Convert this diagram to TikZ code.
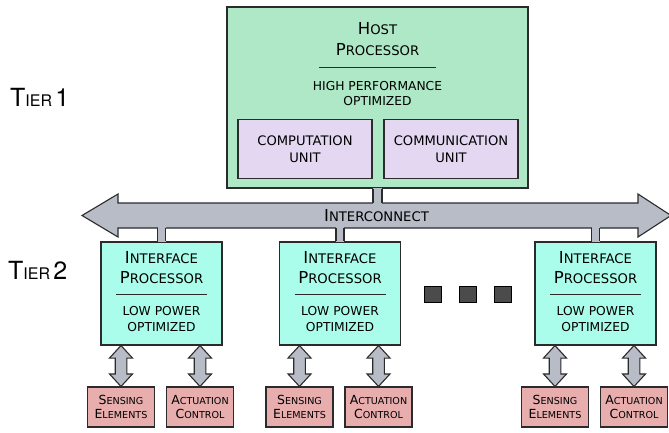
\documentclass[tikz,border=0pt]{standalone}
\usepackage{fontspec}
\setmainfont{DejaVu Sans}
\newfontfamily\tierfont{TeX Gyre Heros}
\usetikzlibrary{calc}

% fake small caps: large initial, smaller capitals
\newcommand\tsc[2]{{\fontsize{16.5}{19}\selectfont #1}{\fontsize{13.2}{15}\selectfont #2}}
\newcommand\ssc[2]{{\fontsize{12.5}{14}\selectfont #1}{\fontsize{9.6}{11}\selectfont #2}}
\newcommand\tiersc[2]{{\tierfont\fontsize{25}{28}\selectfont #1}{\tierfont\fontsize{16}{18}\selectfont #2}}

\definecolor{hostgreen}{RGB}{174,232,198}
\definecolor{unitlav}{RGB}{227,215,242}
\definecolor{ifcyan}{RGB}{170,253,234}
\definecolor{leafpink}{RGB}{232,173,173}
\definecolor{busgray}{RGB}{183,188,199}
\definecolor{edge}{RGB}{43,43,43}
\definecolor{dotgray}{RGB}{75,75,75}

\tikzset{
  boxline/.style={draw=edge, line width=1.1pt},
  hostbox/.style={boxline, fill=hostgreen, minimum width=301pt, minimum height=181pt, inner sep=0pt},
  unitbox/.style={boxline, fill=unitlav, minimum width=134pt, minimum height=59pt, inner sep=0pt,
    align=center, font=\fontsize{13.1}{17}\selectfont},
  ifbox/.style={boxline, fill=ifcyan, minimum width=121pt, minimum height=103pt, inner sep=0pt},
  leafbox/.style={boxline, fill=leafpink, minimum width=67pt, minimum height=40pt, inner sep=0pt,
    align=center, font=\fontsize{9.6}{14}\selectfont},
  titletext/.style={align=center, inner sep=0pt, font=\fontsize{13.2}{20.5}\selectfont},
  bodytext/.style={align=center, inner sep=0pt, font=\fontsize{12.3}{15.5}\selectfont},
  rulerline/.style={draw=edge, line width=1pt},
  busshape/.style={draw=edge, line width=1.1pt, fill=busgray, line join=miter},
  stemfill/.style={fill=busgray},
  stemside/.style={draw=edge, line width=1.1pt},
  dotbox/.style={draw=black, line width=1pt, fill=dotgray, minimum width=17pt, minimum height=16pt, inner sep=0pt},
  tierlabel/.style={anchor=west, inner sep=0pt},
}

% vertical double-headed arrow between two points on the same vertical
\newcommand\vdarrow[2]{%
  \draw[busshape] (#1) -- ($(#1)+(11.5,12.5)$) -- ($(#1)+(5.8,12.5)$)
    -- ($(#2)+(5.8,-12.5)$) -- ($(#2)+(11.5,-12.5)$) -- (#2)
    -- ($(#2)+(-11.5,-12.5)$) -- ($(#2)+(-5.8,-12.5)$)
    -- ($(#1)+(-5.8,12.5)$) -- ($(#1)+(-11.5,12.5)$) -- cycle;}

% vertical stem joining a box edge to the bus
\newcommand\stem[3]{% top point, bottom point, half width
  \fill[stemfill] ($(#1)+(-#3,-1)$) rectangle ($(#2)+(#3,1)$);
  \draw[stemside] ($(#1)+(-#3,0)$) -- ($(#2)+(-#3,0)$);
  \draw[stemside] ($(#1)+(#3,0)$) -- ($(#2)+(#3,0)$);}

\begin{document}
\begin{tikzpicture}[x=1pt, y=-1pt]
\useasboundingbox (0,0) rectangle (669,432);

% ---- tier labels
\node[tierlabel] (tier1) at (10,97) {\tiersc{T}{IER} \tiersc{1}{}};
\node[tierlabel] (tier2) at (8,270) {\tiersc{T}{IER} \tiersc{2}{}};

% ---- host processor
\node[hostbox] (host) at (377.5,97.5) {};
\node[titletext] (hosttitle) at (377.5,39) {\tsc{H}{OST}\\\tsc{P}{ROCESSOR}};
\draw[rulerline] (319,67) -- (436,67);
\node[bodytext] (hostbody) at (377.5,93.5) {HIGH PERFORMANCE\\OPTIMIZED};
\node[unitbox] (comp) at (305,149) {COMPUTATION\\UNIT};
\node[unitbox] (comm) at (451,149) {COMMUNICATION\\UNIT};

% ---- interconnect bus
\coordinate (busL) at (82,215.5);
\coordinate (busR) at (671,215.5);
\draw[busshape] (busL) -- (118,194) -- (118,203) -- (638,203) -- (638,194) -- (busR)
  -- (638,237) -- (638,228) -- (118,228) -- (118,237) -- cycle;
\node[inner sep=0pt] (bus) at (376.5,215.5) {\tsc{I}{NTERCONNECT}};

% ---- interface processors
\foreach \i/\cx in {1/161.5, 2/340, 3/595.5} {
  \node[ifbox] (if\i) at (\cx,293.5) {};
  \node[titletext, font=\fontsize{13.2}{20}\selectfont] (ift\i) at (\cx,268) {\tsc{I}{NTERFACE}\\\tsc{P}{ROCESSOR}};
  \draw[rulerline] ($(\cx,294)+(-45.5,0)$) -- ($(\cx,294)+(45.5,0)$);
  \node[bodytext, font=\fontsize{12.3}{16}\selectfont] (ifb\i) at (\cx,319) {LOW POWER\\OPTIMIZED};
  \node[leafbox] (sense\i) at ($(\cx,407)+(-40.5,0)$) {\ssc{S}{ENSING}\\\ssc{E}{LEMENTS}};
  \node[leafbox] (act\i) at ($(\cx,407)+(38.5,0)$) {\ssc{A}{CTUATION}\\\ssc{C}{ONTROL}};
  \coordinate (busbot\i) at (\cx,228);
  \stem{busbot\i}{if\i.north}{4}
  \vdarrow{sense\i.north |- if\i.south}{sense\i.north}
  \vdarrow{act\i.north |- if\i.south}{act\i.north}
}

% host to bus
\coordinate (bustop) at (377.5,203);
\stem{host.south}{bustop}{4.5}

% ---- ellipsis between interface processors
\node[dotbox] (dot1) at (433,294.5) {};
\node[dotbox] (dot2) at (468,294.5) {};
\node[dotbox] (dot3) at (503,294.5) {};
\end{tikzpicture}
\end{document}
